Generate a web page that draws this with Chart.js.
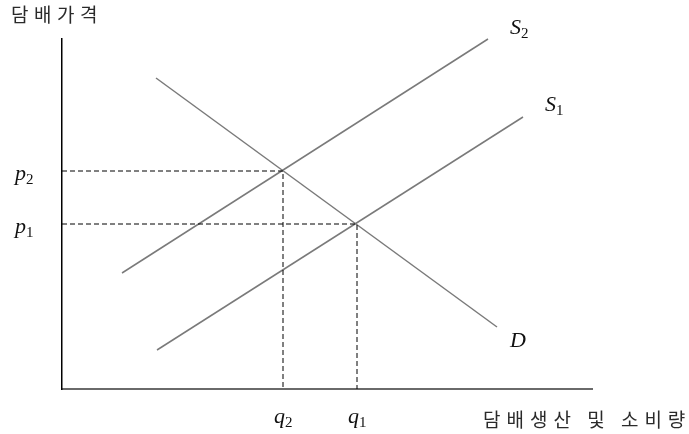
<!DOCTYPE html>
<html><head><meta charset="utf-8">
<script src="https://cdn.jsdelivr.net/npm/chart.js@4"></script>
<style>html,body{margin:0;padding:0;background:#fff}#wrap{width:689px;height:434px}</style>
</head><body><div id="wrap"><canvas id="c" width="689" height="434"></canvas></div>
<script>
// Quantity (x) and price (y) in arbitrary units
const supply2 = [{x: 60, y: 116}, {x: 426, y: 350}];
const supply1 = [{x: 95, y: 39}, {x: 461, y: 272}];
const demand = [{x: 94, y: 311}, {x: 435, y: 62}];
const equilibria = [{name: "2", x: 221, y: 218}, {name: "1", x: 295, y: 165}];
const yTitle = "담배가격";
const xTitle = "담배생산 및 소비량";

const guide = (e) => [{x: 0, y: e.y}, {x: e.x, y: e.y}, {x: e.x, y: 0}];

const labelsPlugin = {
  id: 'labels',
  afterDatasetsDraw(chart) {
    const {ctx, scales: {x, y}} = chart;
    ctx.save();
    ctx.fillStyle = '#2a2a2a';
    ctx.textBaseline = 'middle';
    ctx.textAlign = 'left';
    ctx.font = '19px "Noto Sans CJK KR"';
    ctx.letterSpacing = '5.5px';
    ctx.fillText(yTitle, 11, 15);
    ctx.letterSpacing = '6px';
    ctx.fillText(xTitle, 483, 420);
    ctx.letterSpacing = '0px';
    ctx.fillStyle = '#111';
    const sym = (base, sub, px, py) => {
      ctx.font = 'italic 22px "Liberation Serif"';
      ctx.textAlign = 'left';
      ctx.fillText(base, px, py);
      const w = ctx.measureText(base).width;
      if (sub) {
        ctx.font = '15px "Liberation Serif"';
        ctx.fillText(sub, px + w, py + 6);
      }
    };
    for (const e of equilibria) {
      sym('p', e.name, 15, y.getPixelForValue(e.y) + 3);
      sym('q', e.name, x.getPixelForValue(e.x) - 9, 417);
    }
    sym('S', '2', x.getPixelForValue(supply2[1].x) + 22, y.getPixelForValue(supply2[1].y) - 11);
    sym('S', '1', x.getPixelForValue(supply1[1].x) + 22, y.getPixelForValue(supply1[1].y) - 12);
    sym('D', '', x.getPixelForValue(demand[1].x) + 13, y.getPixelForValue(demand[1].y) + 14);
    ctx.restore();
  }
};

const lineDs = (data, color, width, dash) => ({
  data, borderColor: color, borderWidth: width, borderDash: dash || [],
  pointRadius: 0, fill: false, tension: 0, showLine: true
});

new Chart(document.getElementById('c'), {
  type: 'scatter',
  data: {
    datasets: [
      lineDs(guide(equilibria[0]), '#000', 1, [5, 3]),
      lineDs(guide(equilibria[1]), '#000', 1, [5, 3]),
      lineDs(supply2, '#7a7a7a', 1.5),
      lineDs(supply1, '#7a7a7a', 1.5),
      lineDs(demand, '#7a7a7a', 1.5)
    ]
  },
  options: {
    responsive: false, animation: false, devicePixelRatio: 1,
    layout: {padding: {left: 54, right: 97, top: 39, bottom: 37}},
    plugins: {legend: {display: false}, tooltip: {enabled: false}},
    scales: {
      x: {type: 'linear', min: 0, max: 530, ticks: {display: false}, grid: {display: false},
          border: {display: true, color: '#6a6a6a', width: 2}},
      y: {type: 'linear', min: 0, max: 350, ticks: {display: false}, grid: {display: false},
          border: {display: true, color: '#000', width: 1.5}}
    },
    clip: false
  },
  plugins: [labelsPlugin]
});
</script></body></html>
